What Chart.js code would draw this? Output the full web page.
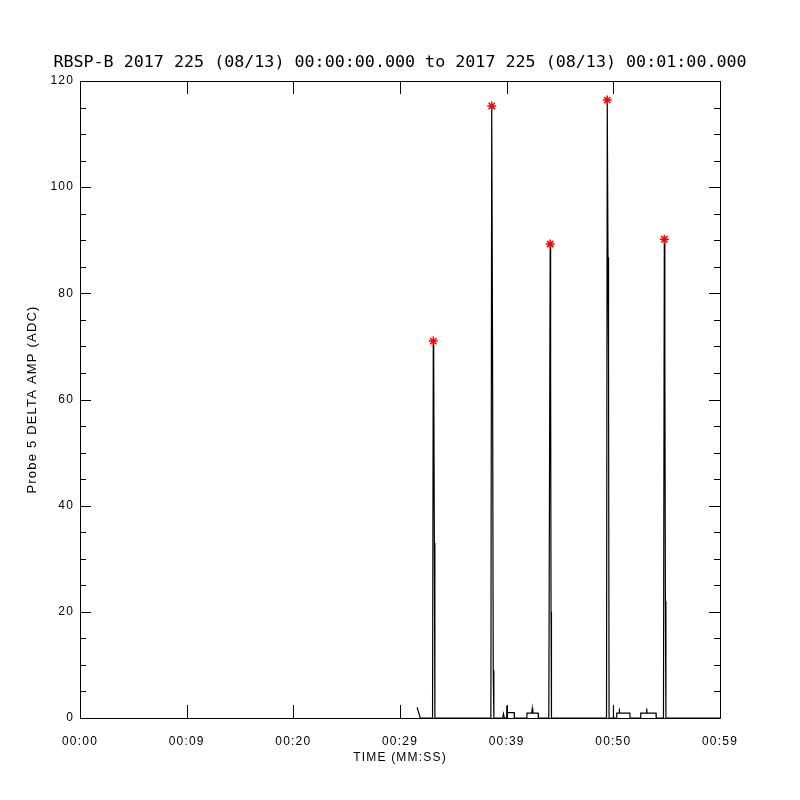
<!DOCTYPE html>
<html>
<head>
<meta charset="utf-8">
<script src="https://cdn.jsdelivr.net/npm/chart.js@4/dist/chart.umd.min.js"></script>
<style>
  html, body { margin:0; padding:0; background:#fff; }
  canvas { display:block; }
</style>
</head>
<body>
<canvas id="probeChart" width="800" height="800"></canvas>
<script>
// ── Data ──────────────────────────────────────────────────────────────────────
const TITLE = 'RBSP-B 2017 225 (08/13) 00:00:00.000 to 2017 225 (08/13) 00:01:00.000';
const xTickLabels = ['00:00','00:09','00:20','00:29','00:39','00:50','00:59'];

// seconds since 00:00:00 and probe 5 delta amp (ADC)
const ampTimes = [
  31.6, 31.9,
  33.05, 33.12, 33.16, 33.22, 33.27,
  38.52, 38.6, 38.68, 38.74, 38.8,
  39.62, 39.7, 39.78, 39.98, 40.0, 40.02, 40.7, 40.72,
  41.88, 41.9, 42.35, 42.4, 42.45, 42.95, 42.97,
  43.95, 44.08, 44.12, 44.16, 44.2,
  49.36, 49.43, 49.5, 49.55, 49.6,
  49.98, 50.0, 50.02,
  50.3, 50.32, 50.54, 50.56, 50.58, 51.55, 51.57,
  52.55, 52.57, 53.1, 53.13, 53.16, 54.0, 54.02,
  54.7, 54.78, 54.83, 54.88, 54.93,
  60
];
const ampValues = [
  2, 0,
  0, 71, 68, 33, 0,
  0, 115.3, 67, 9, 0,
  0, 0.8, 0, 0, 2.3, 1, 1, 0,
  0, 0.9, 0.9, 1.8, 0.9, 0.9, 0,
  0, 89.3, 65, 20, 0,
  0, 116.4, 86.8, 66.5, 0,
  0, 2.3, 0,
  0, 0.9, 0.9, 1.8, 0.9, 0.9, 0,
  0, 0.9, 0.9, 1.8, 0.9, 0.9, 0,
  0, 90.2, 67.8, 22, 0,
  0
];

// peaks marked with red asterisks
const peakTimes  = [33.12, 38.6, 44.08, 49.43, 54.78];
const peakValues = [71, 115.3, 89.3, 116.4, 90.2];

// ── Plugins ───────────────────────────────────────────────────────────────────
const whiteBg = {
  id: 'whiteBg',
  beforeUpdate(c) { c.ctx.letterSpacing = '1.2px'; },   // wide IDL-ish lettering
  beforeDraw(c) {
    const ctx = c.ctx;
    ctx.save();
    ctx.fillStyle = '#fff';
    ctx.fillRect(0, 0, c.width, c.height);
    ctx.restore();
  }
};

// IDL style frame: box with inward ticks on all four sides, title centred on page
const frame = {
  id: 'frame',
  afterDraw(c) {
    const { ctx, chartArea: a, scales: { x, y } } = c;
    ctx.save();
    ctx.strokeStyle = '#000';
    ctx.lineWidth = 1;
    ctx.beginPath();
    ctx.rect(Math.round(a.left) + 0.5, Math.round(a.top) + 0.5,
             Math.round(a.right - a.left), Math.round(a.bottom - a.top));
    for (let v = 0; v <= 120; v += 5) {
      const py = Math.round(y.getPixelForValue(v)) + 0.5;
      const len = v % 20 === 0 ? 11 : 6;
      ctx.moveTo(a.left, py);  ctx.lineTo(a.left + len, py);
      ctx.moveTo(a.right, py); ctx.lineTo(a.right - len, py);
    }
    for (let v = 0; v <= 60; v += 10) {
      const px = Math.round(x.getPixelForValue(v)) + 0.5;
      ctx.moveTo(px, a.bottom); ctx.lineTo(px, a.bottom - 13);
      ctx.moveTo(px, a.top);    ctx.lineTo(px, a.top + 13);
    }
    ctx.stroke();

    ctx.letterSpacing = '0px';
    ctx.fillStyle = '#000';
    ctx.font = "16.7px 'DejaVu Sans Mono', 'Liberation Mono', monospace";
    ctx.textAlign = 'center';
    ctx.textBaseline = 'middle';
    ctx.fillText(TITLE, c.width / 2, 63);
    ctx.restore();
  }
};

// ── Chart ─────────────────────────────────────────────────────────────────────
const AXIS_FONT = { family: "'Liberation Sans', Arial, sans-serif", size: 12 };

new Chart(document.getElementById('probeChart').getContext('2d'), {
  type: 'scatter',
  data: {
    datasets: [
      {
        data: ampTimes.map((t, i) => ({ x: t, y: ampValues[i] })),
        showLine: true, borderColor: '#000', borderWidth: 1.2,
        pointRadius: 0, tension: 0, order: 2
      },
      {
        data: peakTimes.map((t, i) => ({ x: t, y: peakValues[i] })),
        showLine: false, pointStyle: 'star', pointRadius: 4.5,
        borderColor: '#ff0000', backgroundColor: '#ff0000', borderWidth: 1.5, order: 1
      }
    ]
  },
  options: {
    responsive: false, animation: false,
    layout: { padding: { left: 0, right: 80, top: 81, bottom: 0 } },
    plugins: {
      legend: { display: false },
      tooltip: { enabled: false },
      title: { display: false }
    },
    scales: {
      x: {
        type: 'linear', min: 0, max: 60,
        grid: { display: false, drawTicks: false }, border: { display: false },
        ticks: {
          stepSize: 10, color: '#000', font: AXIS_FONT, padding: 16, maxRotation: 0,
          callback: v => xTickLabels[Math.round(v / 10)]
        },
        title: { display: true, text: 'TIME (MM:SS)', color: '#000', font: AXIS_FONT, padding: { bottom: 35 } },
        afterFit: s => { s.height = 82; }
      },
      y: {
        min: 0, max: 120,
        grid: { display: false, drawTicks: false }, border: { display: false },
        ticks: { stepSize: 20, color: '#000', font: AXIS_FONT, padding: 6 },
        title: {
          display: true, text: 'Probe 5 DELTA AMP (ADC)', color: '#000',
          font: { family: AXIS_FONT.family, size: 13 }, padding: { top: 25 }
        },
        afterFit: s => { s.width = 80; }
      }
    }
  },
  plugins: [whiteBg, frame]
});
</script>
</body>
</html>
